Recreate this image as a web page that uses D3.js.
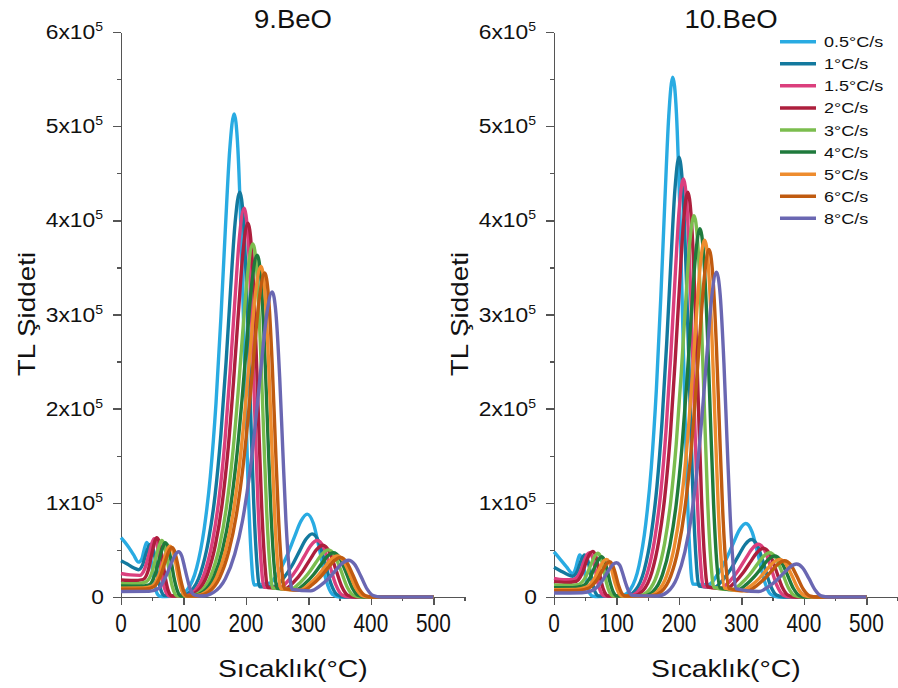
<!DOCTYPE html>
<html>
<head>
<meta charset="utf-8">
<script src="https://cdn.jsdelivr.net/npm/d3@7"></script>
<style>
body { margin: 0; background: #fff; }
text { font-family: "Liberation Sans", Arial, sans-serif; fill: #111; }
.axis path, .axis line { stroke: #555; stroke-width: 1.4; shape-rendering: crispEdges; }
</style>
</head>
<body>
<svg id="vis" width="898" height="688"></svg>
<script>
// heating rates + colours
var rateLabels = ["0.5°C/s", "1°C/s", "1.5°C/s", "2°C/s", "3°C/s", "4°C/s", "5°C/s", "6°C/s", "8°C/s"];
var rateColors = ["#29abe2", "#13799e", "#db3f7d", "#ad1f3d", "#7bbd4e", "#1f7a3c", "#ee8c2e", "#c05b10", "#6a67b2"];

// ticks (temperature in °C, intensity in units of 1000)
var xMajor = [0, 100, 200, 300, 400, 500];
var xMinor = [50, 150, 250, 350, 450, 550];
var yMajor = [0, 100, 200, 300, 400, 500, 600];
var yMinor = [50, 150, 250, 350, 450, 550];

// 9.BeO glow curves: [temperature, TL intensity x1000]
var s9_05 = [[0,63],[10,55],[20,45],[28,37],[33,40],[37,50],[41,58],[45,52],[49,35],[53,16],[57,5],[62,1],[70,0.5],
  [91,1.5],[106,7.7],[121,30.8],[133,71.8],[143,128],[152,205],[160,297.5],[167,390],[174,474.5],[181,513],[187,477],[193,369],[198,246],[203,128],[208,48.7],[213,12.8],
  [238,14.7],[253,27.2],[266,44.3],[278,64.4],[288,80.5],[298,88],[308,78],[318,49.6],[328,18.7],[338,3.1],[350,0],[500,0]];
var s9_1 = [[0,38.5],[10,35],[20,31],[28,29],[35,35],[41,48],[47,56],[52,50],[56,35],[60,18],[64,7],[70,1.5],
  [96.4,1.3],[112,6.5],[127.6,25.8],[140.1,60.2],[150.5,107.5],[159.8,172],[168.2,249.4],[175.4,326.8],[182.7,397.8],[190,430],[196,400],[202,309.6],[207,206.4],[212,107.5],[217,40.9],[222,10.8],
  [246,11.2],[261,20.7],[274,33.7],[286,49],[296,61.3],[306,67],[316,59.4],[326,37.8],[336,14.3],[346,2.3],[358,0],[500,0]];
var s9_15 = [[0,25],[15,23.5],[30,23],[38,30],[45,46],[50,58],[53,62],[57,57],[62,38],[67,16],[72,5],[78,1],
  [101.6,1.2],[117.5,6.2],[133.4,24.8],[146.1,57.8],[156.7,103.3],[166.3,165.2],[174.7,239.5],[182.2,313.9],[189.6,382],[197,413],[203,384.1],[209,297.4],[214,198.2],[219,103.3],[224,39.2],[229,10.3],
  [254,10],[269,18.5],[282,30.2],[294,43.9],[304,54.9],[314,60],[324,53.2],[334,33.8],[344,12.8],[354,2.1],[366,0],[500,0]];
var s9_2 = [[0,18],[20,17.5],[35,18.5],[43,27],[50,48],[54,59],[57,63],[61,59],[66,42],[71,20],[76,6],[82,1],
  [105.8,1.2],[122,6],[138.2,23.8],[151.2,55.6],[162,99.3],[171.7,158.8],[180.3,230.3],[187.9,301.7],[195.4,367.2],[203,397],[209,369.2],[215,285.8],[220,190.6],[225,99.3],[230,37.7],[235,9.9],
  [263,9.2],[278,17],[291,27.7],[303,40.3],[313,50.3],[323,55],[333,48.7],[343,31],[353,11.7],[363,1.9],[375,0],[500,0]];
var s9_3 = [[0,14.5],[25,14],[40,16],[50,27],[57,45],[62,56],[65,60],[69,56],[74,40],[79,20],[84,7],[90,1],
  [110.2,1.1],[127,5.6],[143.8,22.5],[157.2,52.5],[168.4,93.8],[178.5,150],[187.5,217.5],[195.3,285],[203.2,346.9],[211,375],[217,348.8],[223,270],[228,180],[233,93.8],[238,35.6],[243,9.4],
  [272,8.4],[287,15.5],[300,25.2],[312,36.6],[322,45.8],[332,50],[342,44.3],[352,28.2],[362,10.7],[372,1.8],[384,0],[500,0]];
var s9_4 = [[0,11.7],[30,11.5],[45,13],[55,25],[62,42],[67,53],[70.5,57.7],[75,54],[80,39],[85,20],[90,7],[96,1],
  [114.5,1.1],[131.7,5.4],[149,21.8],[162.8,50.8],[174.3,90.8],[184.6,145.2],[193.8,210.5],[201.9,275.9],[209.9,335.8],[218,363],[224,337.6],[230,261.4],[235,174.2],[240,90.8],[245,34.5],[250,9.1],
  [280,7.8],[295,14.5],[308,23.6],[320,34.4],[330,43],[340,47],[350,41.6],[360,26.5],[370,10],[380,1.6],[392,0],[500,0]];
var s9_5 = [[0,9.3],[35,9.5],[50,11.5],[60,22],[68,38],[74,50],[78,54],[82,51],[87,38],[92,20],[97,7],[103,1],
  [117.8,1.1],[135.5,5.3],[153.2,21.1],[167.4,49.1],[179.2,87.8],[189.8,140.4],[199.2,203.6],[207.5,266.8],[215.7,324.7],[224,351],[230,326.4],[236,252.7],[241,168.5],[246,87.8],[251,33.3],[256,8.8],
  [286,7.3],[301,13.4],[314,21.9],[326,31.8],[336,39.8],[346,43.5],[356,38.5],[366,24.5],[376,9.3],[386,1.5],[398,0],[500,0]];
var s9_6 = [[0,8.2],[40,8.5],[53,11],[63,22],[71,38],[77,49],[81,52.7],[85,50],[90,37],[95,20],[100,7],[106,1],
  [122,1],[140,5.2],[158,20.6],[172.4,48.2],[184.4,86],[195.2,137.6],[204.8,199.5],[213.2,261.4],[221.6,318.2],[230,344],[236,319.9],[242,247.7],[247,165.1],[252,86],[257,32.7],[262,8.6],
  [291,7],[306,13],[319,21.1],[331,30.7],[341,38.4],[351,42],[361,37.2],[371,23.7],[381,8.9],[391,1.5],[403,0],[500,0]];
var s9_8 = [[0,5.8],[45,6],[60,9],[70.5,20],[80,35],[87,45],[92,48],[97,44],[102,31],[106,20],[111,8],[118,2],
  [129.5,1],[148.2,4.9],[167,19.4],[182,45.4],[194.5,81],[205.7,129.6],[215.7,187.9],[224.5,246.2],[233.2,299.7],[242,324],[248,301.3],[254,233.3],[259,155.5],[264,81],[269,30.8],[274,8.1],
  [304,6.5],[319,12],[332,19.6],[344,28.5],[354,35.7],[364,39],[374,34.6],[384,22],[394,8.3],[404,1.4],[416,0],[500,0]];

// 10.BeO glow curves
var s10_05 = [[0,48],[10,40],[20,32],[30,25],[34,29],[38,39],[41,44.6],[45,40],[49,27],[53,12],[57,4],[62,1],[70,0.5],
  [109,1.7],[122.5,8.3],[136,33.1],[146.8,77.3],[155.8,138],[163.9,220.8],[171.1,320.2],[177.4,419.5],[183.7,510.6],[190,552],[196,513.4],[202,397.4],[207,265],[212,138],[217,52.4],[222,13.8],
  [247,13],[262,24.1],[275,39.2],[287,57.1],[297,71.4],[307,78],[317,69.1],[327,44],[337,16.6],[347,2.7],[359,0],[500,0]];
var s10_1 = [[0,31.5],[10,28],[20,24.5],[30,22],[37,27],[43,38],[49,44.6],[54,39],[58,27],[62,14],[66,5],[72,1],
  [116.3,1.4],[130.2,7],[144.2,28],[155.4,65.4],[164.7,116.8],[173,186.8],[180.5,270.9],[187,354.9],[193.5,432],[200,467],[206,434.3],[212,336.2],[217,224.2],[222,116.8],[227,44.4],[232,11.7],
  [256,10.2],[271,18.8],[284,30.7],[296,44.7],[306,55.8],[316,61],[326,54],[336,34.4],[346,13],[356,2.1],[368,0],[500,0]];
var s10_15 = [[0,19.8],[15,18.5],[30,18.5],[40,24],[48,38],[53,45],[57,47],[61,43],[66,29],[71,13],[76,4],[82,1],
  [121.5,1.3],[135.7,6.7],[150,26.6],[161.4,62.2],[170.9,111],[179.4,177.6],[187,257.5],[193.7,337.4],[200.3,410.7],[207,444],[213,412.9],[219,319.7],[224,213.1],[229,111],[234,42.2],[239,11.1],
  [267,9.4],[282,17.3],[295,28.2],[307,41],[317,51.2],[327,56],[337,49.6],[347,31.6],[357,11.9],[367,2],[379,0],[500,0]];
var s10_2 = [[0,16.3],[20,15.5],[35,16.5],[45,25],[53,40],[58,46.5],[62,48.5],[66,45],[71,32],[76,15],[81,5],[87,1],
  [127.6,1.3],[142,6.5],[156.4,25.8],[167.9,60.2],[177.5,107.5],[186.2,172],[193.8,249.4],[200.6,326.8],[207.3,397.8],[214,430],[220,399.9],[226,309.6],[231,206.4],[236,107.5],[241,40.9],[246,10.8],
  [275,8.6],[290,16],[303,26],[315,37.8],[325,47.3],[335,51.7],[345,45.8],[355,29.2],[365,11],[375,1.8],[387,0],[500,0]];
var s10_3 = [[0,12.7],[25,12.3],[40,13.5],[52,23],[60,36],[66,44],[70,46.4],[74,43.5],[79,31],[84,15],[89,5],[95,1],
  [135.8,1.2],[150.5,6.1],[165.2,24.3],[177,56.7],[186.8,101.3],[195.6,162],[203.4,234.9],[210.3,307.8],[217.1,374.6],[224,405],[230,376.7],[236,291.6],[241,194.4],[246,101.3],[251,38.5],[256,10.1],
  [285,7.8],[300,14.5],[313,23.6],[325,34.4],[335,43],[345,47],[355,41.6],[365,26.5],[375,10],[385,1.6],[397,0],[500,0]];
var s10_4 = [[0,10],[30,10],[45,11.5],[58,21],[66,33],[72,40.5],[76,42.8],[80,40],[85,29],[90,15],[95,5],[101,1],
  [143.5,1.2],[158.5,5.9],[173.5,23.5],[185.5,54.7],[195.5,97.8],[204.5,156.4],[212.5,226.8],[219.5,297.2],[226.5,361.7],[233.5,391],[239.5,363.6],[245.5,281.5],[250.5,187.7],[255.5,97.8],[260.5,37.1],[265.5,9.8],
  [293,7.3],[308,13.4],[321,21.9],[333,31.8],[343,39.8],[353,43.5],[363,38.5],[373,24.5],[383,9.3],[393,1.5],[405,0],[500,0]];
var s10_5 = [[0,7.8],[35,8],[52,10.5],[65,20],[74,32],[80,38.5],[84,40],[88,37.5],[93,27],[98,14],[103,5],[109,1],
  [150.1,1.1],[165.2,5.7],[180.4,22.7],[192.5,53.1],[202.6,94.8],[211.7,151.6],[219.8,219.8],[226.9,288],[233.9,350.6],[241,379],[247,352.5],[253,272.9],[258,181.9],[263,94.8],[268,36],[273,9.5],
  [301,6.7],[316,12.4],[329,20.1],[341,29.3],[351,36.6],[361,40],[371,35.4],[381,22.6],[391,8.5],[401,1.4],[413,0],[500,0]];
var s10_6 = [[0,6.7],[40,7],[56,9.5],[69,18.5],[79,30],[85,36],[89,37.5],[93,35],[98,25.5],[103,13],[108,4.5],[114,1],
  [156.2,1.1],[171.5,5.5],[186.8,22.1],[199,51.7],[209.2,92.3],[218.4,147.6],[226.6,214],[233.7,280.4],[240.9,341.3],[248,369],[254,343.2],[260,265.7],[265,177.1],[270,92.3],[275,35.1],[280,9.2],
  [309,6.4],[324,11.9],[337,19.4],[349,28.2],[359,35.2],[369,38.5],[379,34.1],[389,21.7],[399,8.2],[409,1.3],[421,0],[500,0]];
var s10_8 = [[0,4.2],[45,4.5],[62,7],[77,17],[88,29],[95,35],[100,36.4],[105,34],[110,25],[115,14],[120,5.5],[127,1.5],
  [165.5,1],[181.2,5.2],[197,20.7],[209.6,48.3],[220.1,86.3],[229.5,138],[237.9,200.1],[245.3,262.2],[252.6,319.1],[260,345],[266,320.9],[272,248.4],[277,165.6],[282,86.3],[287,32.8],[292,8.6],
  [328,5.8],[343,10.8],[356,17.6],[368,25.6],[378,32],[388,35],[398,31],[408,19.7],[418,7.5],[428,1.2],[440,0],[500,0]];

var panels = [
  { title: "9.BeO", left: 121, titleX: 293, series: [s9_05, s9_1, s9_15, s9_2, s9_3, s9_4, s9_5, s9_6, s9_8] },
  { title: "10.BeO", left: 554, titleX: 731, series: [s10_05, s10_1, s10_15, s10_2, s10_3, s10_4, s10_5, s10_6, s10_8] }
];

var svg = d3.select("#vis");
var plotTop = 32, plotBottom = 597, plotW = 343.6;

// text with a horizontal stretch (the source font runs wider than Arial)
function label(parent, x, y, txt, size, sx, anchor, rot) {
  var t = parent.append("text")
    .attr("transform", "translate(" + x + "," + y + ")" + (rot ? " rotate(" + rot + ")" : "") + " scale(" + sx + ",1)")
    .attr("text-anchor", anchor)
    .style("font-size", size + "px");
  if (txt !== null) t.text(txt);
  return t;
}

panels.forEach(function(p) {
  var x = d3.scaleLinear().domain([0, 550]).range([p.left, p.left + plotW]);
  var y = d3.scaleLinear().domain([0, 600]).range([plotBottom, plotTop]);
  var g = svg.append("g");

  // axes: minor then major ticks
  g.append("g").attr("class", "axis").attr("transform", "translate(0," + plotBottom + ")")
    .call(d3.axisBottom(x).tickValues(xMinor).tickSize(4).tickSizeOuter(0).tickFormat(""));
  g.append("g").attr("class", "axis").attr("transform", "translate(0," + plotBottom + ")")
    .call(d3.axisBottom(x).tickValues(xMajor).tickSize(8).tickSizeOuter(0).tickFormat(""));
  g.append("g").attr("class", "axis").attr("transform", "translate(" + p.left + ",0)")
    .call(d3.axisLeft(y).tickValues(yMinor).tickSize(4).tickSizeOuter(0).tickFormat(""));
  g.append("g").attr("class", "axis").attr("transform", "translate(" + p.left + ",0)")
    .call(d3.axisLeft(y).tickValues(yMajor).tickSize(8).tickSizeOuter(0).tickFormat(""));

  // tick labels
  xMajor.forEach(function(v) {
    label(g, x(v), 632, String(v), 26, 0.8, "middle");
  });
  yMajor.forEach(function(v) {
    if (v === 0) {
      label(g, p.left - 17, y(v) + 7, "0", 19.5, 1.17, "end");
    } else {
      var t = label(g, p.left - 18, y(v) + 7, null, 19.5, 1.17, "end");
      t.append("tspan").text((v / 100) + "x10");
      t.append("tspan").attr("dy", -8).style("font-size", "12px").text("5");
    }
  });

  // titles
  label(g, p.titleX, 28, p.title, 25, 1.1, "middle");
  label(g, x(275), 677, "Sıcaklık(°C)", 24, 1.18, "middle");
  label(g, p.left - 86, 314, "TL Şiddeti", 24, 1.16, "middle", -90);

  // glow curves
  var line = d3.line()
    .x(function(d) { return x(d[0]); })
    .y(function(d) { return y(d[1]); })
    .curve(d3.curveMonotoneX);

  g.selectAll(".curve")
    .data(p.series)
    .enter()
    .append("path")
    .attr("class", "curve")
    .attr("d", line)
    .attr("fill", "none")
    .attr("stroke", function(d, i) { return rateColors[i]; })
    .attr("stroke-width", 3.4)
    .attr("stroke-linejoin", "round");
});

// legend (right panel)
var leg = svg.append("g");
rateLabels.forEach(function(r, i) {
  var yy = 41.7 + i * 22.08;
  leg.append("line")
    .attr("x1", 780).attr("x2", 816).attr("y1", yy).attr("y2", yy)
    .attr("stroke", rateColors[i]).attr("stroke-width", 3.5);
  label(leg, 824, yy + 5.5, r, 15, 1.2, "start");
});
</script>
</body>
</html>
